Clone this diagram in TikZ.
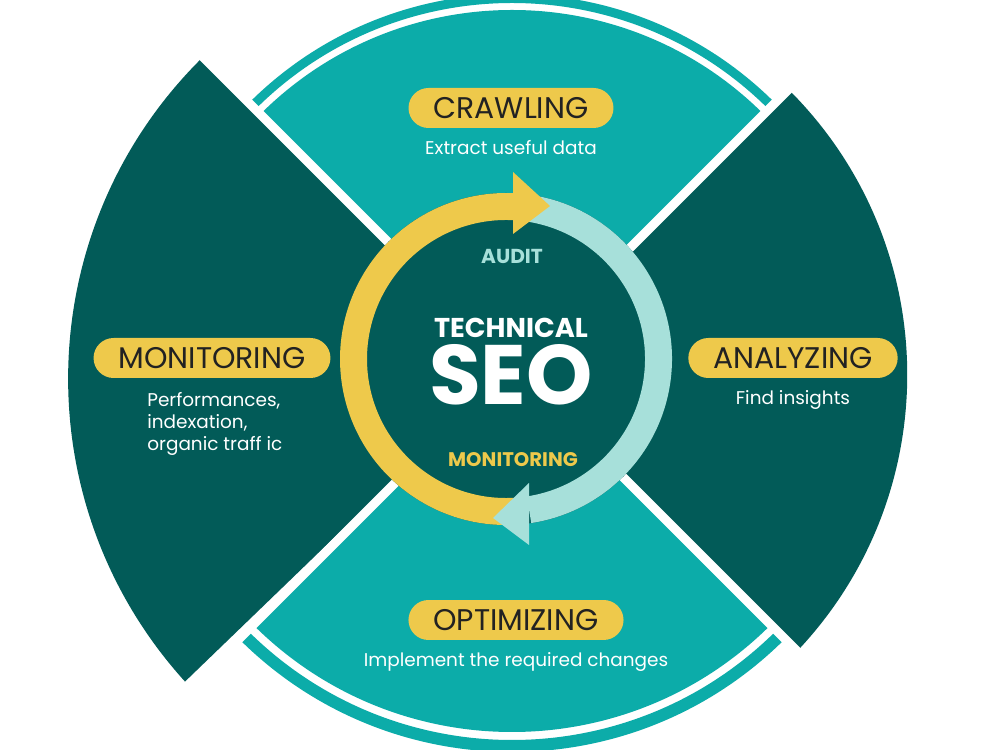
\documentclass[tikz,border=0pt]{standalone}
\usepackage{fontspec}
\setmainfont{Poppins}
\usepackage{tikz}
\usetikzlibrary{positioning, calc}
\definecolor{deepgreen}{RGB}{2, 91, 88}
\definecolor{seoteal}{RGB}{12, 172, 169}
\definecolor{seoyellow}{RGB}{238, 201, 75}
\definecolor{paleteal}{RGB}{167, 224, 218}
\definecolor{inkdark}{RGB}{34, 34, 34}

\begin{document}
\begin{tikzpicture}[
    x=0.02cm, y=0.02cm,
    pill/.style={rectangle, fill=seoyellow, rounded corners=0.4cm, minimum height=0.8cm, inner xsep=0.5cm, inner ysep=0pt, text=inkdark, font=\fontsize{17}{20}\selectfont},
    note/.style={text=white, inner sep=0pt, font=\fontsize{10.5}{12.5}\selectfont},
    hub/.style={text=white, inner sep=0pt, font=\bfseries\fontsize{15.5}{17}\selectfont},
    gap/.style={white, line width=0.18cm},
    band/.style={seoteal, line width=0.18cm},
    loopring/.style={line width=0.54cm}
]
    \useasboundingbox[fill=white] (0,0) rectangle (1000,750);
    \coordinate (c) at (512,384);
    \coordinate (o) at (506,391);

    % side blocks
    \fill[deepgreen] (c) -- (203,693) arc[start angle=134.5, end angle=222.2, radius=451] -- cycle;
    \fill[deepgreen] (c) -- (789,660) arc[start angle=45.1, end angle=-42.9, radius=402] -- cycle;
    % top and bottom blocks
    \fill[seoteal] (c) -- ++(45:356) arc[start angle=45, end angle=135, radius=356] -- cycle;
    \fill[seoteal] (c) -- ++(225:366) arc[start angle=225, end angle=315, radius=366] -- cycle;
    \draw[band] (c) ++(45:367.5) arc[start angle=45, end angle=135, radius=367.5];
    \draw[band, line width=0.24cm] (c) ++(225:380) arc[start angle=225, end angle=315, radius=380];
    \foreach \a in {45,135,225,315}
        \draw[gap] (c) -- ++(\a:480);

    % centre and cycle
    \fill[deepgreen] (o) circle[radius=166];
    \draw[loopring, seoyellow] (o) ++(276:152.5) arc[start angle=276, end angle=87, radius=152.5];
    \draw[loopring, paleteal] (o) ++(82:152.5) arc[start angle=82, end angle=-81.3, radius=152.5];
    \fill[seoyellow] (513,578) -- (550,544) -- (513,516) -- cycle;
    \fill[paleteal] (529,267) -- (493,232) -- (529,205) -- cycle;

    \node[hub, text=paleteal, font=\bfseries\fontsize{11.5}{13}\selectfont] (audit) at (512,494) {AUDIT};
    \node[hub] (tech) at (511,422) {TECHNICAL};
    \node[hub, font=\bfseries\fontsize{48}{50}\selectfont] (seo) at (511,375) {SEO};
    \node[hub, text=seoyellow, font=\bfseries\fontsize{11.2}{13}\selectfont] (loop) at (513,290) {MONITORING};

    % stage labels
    \node[pill] (crawl) at (511,642) {CRAWLING};
    \node[note, below=0.24cm of crawl] (crawltxt) {Extract useful data};
    \node[pill] (analyze) at (793,392) {ANALYZING};
    \node[note, below=0.24cm of analyze] (analyzetxt) {Find insights};
    \node[pill] (optimize) at (516,130) {OPTIMIZING};
    \node[note, below=0.24cm of optimize] (optimizetxt) {Implement the required changes};
    \node[pill] (monitor) at (212,392) {MONITORING};
    \node[note, align=left, anchor=north west] (monitortxt) at (147,358) {Performances,\\indexation,\\organic traff ic};
\end{tikzpicture}
\end{document}
